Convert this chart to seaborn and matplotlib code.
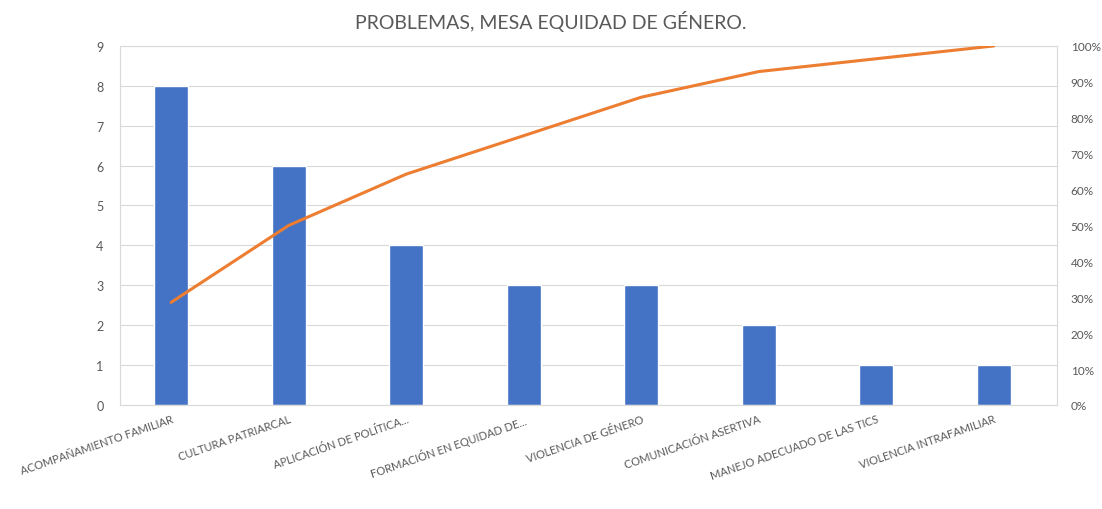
import numpy as np
import pandas as pd
import matplotlib.pyplot as plt
import seaborn as sns
from matplotlib.ticker import PercentFormatter

# datos
problemas = ['ACOMPAÑAMIENTO FAMILIAR', 'CULTURA PATRIARCAL', 'APLICACIÓN DE POLÍTICA...',
             'FORMACIÓN EN EQUIDAD DE...', 'VIOLENCIA DE GÉNERO', 'COMUNICACIÓN ASERTIVA',
             'MANEJO ADECUADO DE LAS TICS', 'VIOLENCIA INTRAFAMILIAR']
frecuencia = [8, 6, 4, 3, 3, 2, 1, 1]

df = pd.DataFrame({'problema': problemas, 'frecuencia': frecuencia})
df['acumulado'] = df['frecuencia'].cumsum() / df['frecuencia'].sum() * 100

sns.set_style('white')
plt.rcParams['font.family'] = ['Lato', 'DejaVu Sans']
gris = '#595959'
borde = '#D9D9D9'

fig = plt.figure(figsize=(11.02, 5.10), dpi=100)
ax = fig.add_axes([0.109, 0.204, 0.850, 0.704])

sns.barplot(data=df, x='problema', y='frecuencia', color='#4472C4', width=0.29,
            saturation=1, ax=ax)
ax.set_xlim(-0.434, 7.536)
ax.set_ylim(0, 9)
ax.set_yticks(range(0, 10))
ax.yaxis.grid(True, color=borde, linewidth=0.8)
ax.set_axisbelow(True)
ax.set_xlabel('')
ax.set_ylabel('')
for s in ax.spines.values():
    s.set_color(borde)
    s.set_linewidth(0.8)
ax.tick_params(axis='y', colors=gris, labelsize=9, length=0, pad=12)
ax.tick_params(axis='x', colors=gris, labelsize=8, length=0, pad=6)
plt.setp(ax.get_xticklabels(), rotation=19, ha='right', rotation_mode='anchor')

ax2 = ax.twinx()
sns.lineplot(x=np.arange(len(df)), y=df['acumulado'], color='#ED7D31', linewidth=2.2, ax=ax2)
ax2.set_ylim(0, 100)
ax2.set_yticks(range(0, 101, 10))
ax2.yaxis.set_major_formatter(PercentFormatter(decimals=0))
ax2.set_ylabel('')
for s in ax2.spines.values():
    s.set_visible(False)
ax2.tick_params(axis='y', colors=gris, labelsize=8.5, length=0, pad=10)

fig.text(0.5, 0.957, 'PROBLEMAS, MESA EQUIDAD DE GÉNERO.', ha='center', va='center',
         fontsize=14, color=gris)

fig.savefig('out.png', dpi=100)
